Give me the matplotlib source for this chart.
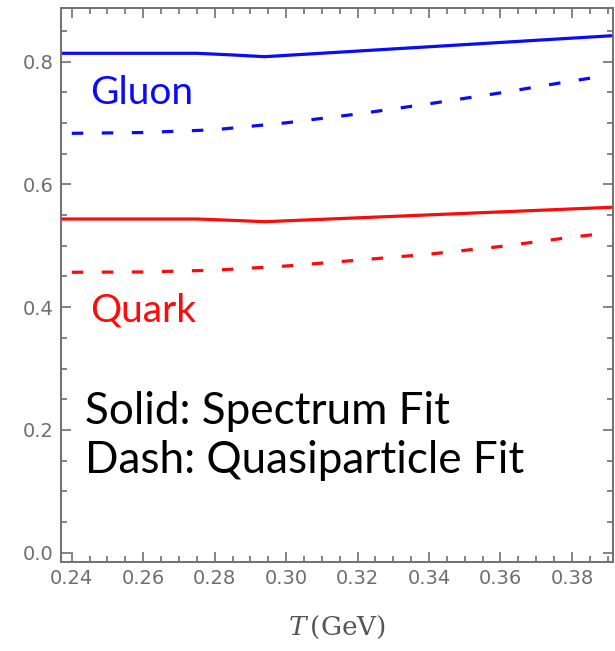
import numpy as np
import matplotlib
matplotlib.use("Agg")
import matplotlib.pyplot as plt
from matplotlib.ticker import MultipleLocator, FormatStrFormatter

# temperatures (GeV)
T_solid = [0.235, 0.275, 0.285, 0.294, 0.392]
T_dash = [0.24, 0.26, 0.28, 0.30, 0.32, 0.34, 0.36, 0.38, 0.39]

# spectrum fit (solid)
gluon_solid = [0.8137, 0.8137, 0.8110, 0.8082, 0.8426]
quark_solid = [0.5437, 0.5437, 0.5415, 0.5393, 0.5630]

# quasiparticle fit (dashed)
gluon_dash = [0.6833, 0.6846, 0.6891, 0.7004, 0.7148, 0.7314, 0.7492, 0.7686, 0.7775]
quark_dash = [0.4569, 0.4574, 0.4603, 0.4671, 0.4766, 0.4864, 0.4989, 0.5141, 0.5209]

xticks = [0.24, 0.26, 0.28, 0.30, 0.32, 0.34, 0.36, 0.38]
yticks = [0.0, 0.2, 0.4, 0.6, 0.8]

plt.rcParams['mathtext.fontset'] = 'dejavuserif'

fig = plt.figure(figsize=(6.15, 6.51), dpi=100)
ax = fig.add_axes([0.0987, 0.1372, 0.8980, 0.8505])

blue = '#0a0aff'
red = '#ff0a0a'
dash = (0, (3.6, 5.8))

ax.plot(T_solid, gluon_solid, color=blue, lw=2.3, solid_joinstyle='round')
ax.plot(T_dash, gluon_dash, color=blue, lw=2.3, linestyle=dash)
ax.plot(T_solid, quark_solid, color=red, lw=2.3, solid_joinstyle='round')
ax.plot(T_dash, quark_dash, color=red, lw=2.3, linestyle=dash)

ax.set_xlim(0.2369, 0.3915)
ax.set_ylim(-0.0147, 0.8875)

ax.set_xticks(xticks)
ax.set_yticks(yticks)
ax.xaxis.set_major_formatter(FormatStrFormatter('%.2f'))
ax.yaxis.set_major_formatter(FormatStrFormatter('%.1f'))
ax.xaxis.set_minor_locator(MultipleLocator(0.005))
ax.yaxis.set_minor_locator(MultipleLocator(0.05))

spine_col = '#707070'
for s in ax.spines.values():
    s.set_color(spine_col)
    s.set_linewidth(1.4)

ax.tick_params(which='both', direction='in', top=True, right=True,
               color=spine_col, width=1.2)
ax.tick_params(which='major', length=7, labelsize=14, labelcolor='#6e6e6e', pad=5)
ax.tick_params(which='minor', length=4.5)
for lab in ax.get_xticklabels() + ax.get_yticklabels():
    lab.set_family('DejaVu Sans')

ax.set_xlabel(r'$T\,$(GeV)', family='DejaVu Serif', fontsize=19,
              color='#555555', labelpad=19)

# labels and legend text
ax.text(0.2451, 0.731, 'Gluon', color=blue, fontsize=28, family='Lato', va='baseline')
ax.text(0.2451, 0.3764, 'Quark', color=red, fontsize=28, family='Lato', va='baseline')
ax.text(0.2437, 0.2097, 'Solid: Spectrum Fit', color='black', fontsize=31.7,
        family='Lato', va='baseline')
ax.text(0.2437, 0.130, 'Dash: Quasiparticle Fit', color='black', fontsize=31.7,
        family='Lato', va='baseline')

fig.savefig('out.png', dpi=100)
